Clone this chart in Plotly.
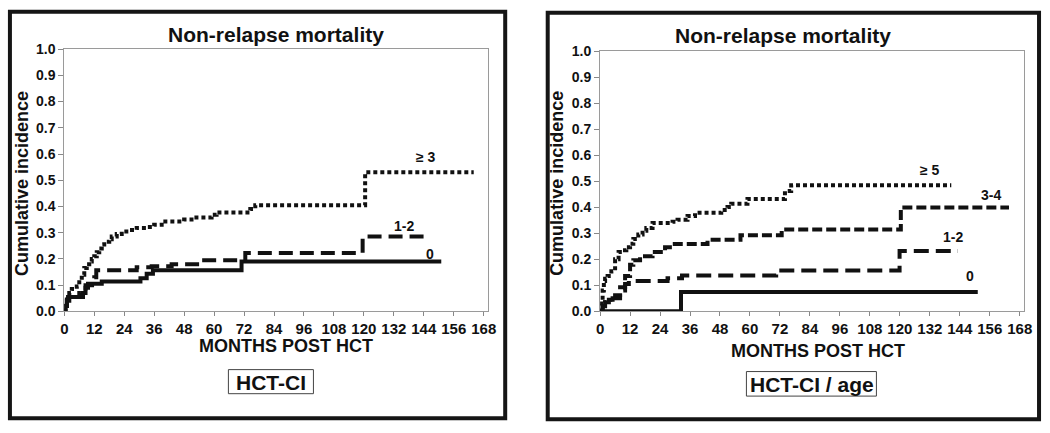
import plotly.graph_objects as go

W, H = 1050, 433

# ---------------- data ----------------
month_ticks = list(range(0, 169, 12))
inc_ticks = [i / 10 for i in range(11)]
inc_ticktext = [f"{v:.1f}" for v in inc_ticks]

# Left panel: HCT-CI
L_ge3_t = [0, 0.5, 1, 2, 3, 5, 6, 7, 8, 9, 10, 11, 12, 13, 14, 15, 16, 18, 19, 21,
           23, 26, 29, 33, 36, 39, 48, 52, 59, 61, 74.5, 76.5, 120.5, 164]
L_ge3_v = [0, 0.02, 0.04, 0.07, 0.085, 0.095, 0.12, 0.14, 0.165, 0.18, 0.19, 0.2, 0.21,
           0.225, 0.24, 0.255, 0.265, 0.275, 0.285, 0.295, 0.305, 0.31, 0.318, 0.322,
           0.33, 0.343, 0.35, 0.358, 0.368, 0.377, 0.39, 0.405, 0.53, 0.53]
L_12_t = [0, 0.5, 1, 2, 6, 8.5, 12, 12.8, 29, 35, 43, 55, 72.5, 119.5, 146]
L_12_v = [0, 0.02, 0.04, 0.055, 0.07, 0.1, 0.13, 0.157, 0.168, 0.172, 0.18, 0.195,
          0.223, 0.285, 0.285]
L_0_t = [0, 0.3, 1, 1.5, 7.5, 8.5, 9.5, 15, 30.5, 33, 35.5, 71, 151]
L_0_v = [0, 0.02, 0.045, 0.055, 0.07, 0.09, 0.105, 0.114, 0.126, 0.143, 0.157, 0.19, 0.19]

# Right panel: HCT-CI / age
R_ge5_t = [0, 0.5, 1, 1.5, 2, 3, 4.5, 6, 7.4, 9, 10.5, 12, 13.3, 15.3, 17, 18.5, 21,
           29, 31, 35, 38, 48.5, 51, 52.5, 59, 74, 76.5, 140.6]
R_ge5_v = [0, 0.04, 0.08, 0.117, 0.125, 0.136, 0.154, 0.2, 0.228, 0.235, 0.247, 0.26,
           0.278, 0.296, 0.31, 0.321, 0.34, 0.345, 0.352, 0.367, 0.379, 0.39, 0.401,
           0.414, 0.432, 0.463, 0.485, 0.485]
R_34_t = [0, 1, 2, 3.5, 6, 8, 10, 12, 13.3, 16, 21, 26, 29, 43, 56.2, 72.7, 120.4, 163.7]
R_34_v = [0, 0.02, 0.035, 0.045, 0.062, 0.093, 0.136, 0.179, 0.197, 0.212, 0.228,
          0.247, 0.259, 0.275, 0.293, 0.315, 0.399, 0.399]
R_12_t = [0, 1, 2, 5, 8, 10, 11.5, 27, 32.8, 70.5, 119.9, 143.3]
R_12_v = [0, 0.02, 0.035, 0.05, 0.08, 0.105, 0.117, 0.127, 0.138, 0.157, 0.232, 0.232]
R_0_t = [0, 32.4, 151.2]
R_0_v = [0, 0.074, 0.074]

left_labels = ["≥ 3", "1-2", "0"]
right_labels = ["≥ 5", "3-4", "1-2", "0"]
title_text = "Non-relapse mortality"
xtitle_text = "MONTHS POST HCT"
ytitle_text = "Cumulative incidence"
left_box_text = "HCT-CI"
right_box_text = "HCT-CI / age"

# ---------------- helpers ----------------
def px(x):
    return x / W

def py(y):
    return 1 - y / H

FONT = "Liberation Sans, Arial, sans-serif"
INK = "#111111"

def bfont(size):
    return dict(family=FONT, size=size, color=INK, weight="bold")

fig = go.Figure()

def step(t, v, xa, ya, dash, width=4):
    fig.add_trace(go.Scatter(
        x=t, y=v, mode="lines", line=dict(shape="hv", color=INK, width=width, dash=dash),
        xaxis=xa, yaxis=ya, hoverinfo="skip"))

step(L_ge3_t, L_ge3_v, "x", "y", "4px,3px")
step(L_12_t, L_12_v, "x", "y", "14px,7px")
step(L_0_t, L_0_v, "x", "y", "solid")

step(R_ge5_t, R_ge5_v, "x2", "y2", "4px,3px")
step(R_34_t, R_34_v, "x2", "y2", "10px,4px")
step(R_12_t, R_12_v, "x2", "y2", "15px,7px")
step(R_0_t, R_0_v, "x2", "y2", "solid")

common_x = dict(range=[0, 169.6], tickvals=month_ticks, ticks="outside", ticklen=4,
                tickcolor="#888", showline=True, linecolor="#9a9a9a", linewidth=1,
                mirror=True, showgrid=False, zeroline=False, tickfont=bfont(15))
common_y = dict(range=[0, 1.0], tickvals=inc_ticks, ticktext=inc_ticktext,
                ticks="outside", ticklen=5, tickcolor="#888", showline=True,
                linecolor="#9a9a9a", linewidth=1, mirror=True, showgrid=False,
                zeroline=False, tickfont=bfont(14))

fig.update_layout(
    width=W, height=H, margin=dict(l=0, r=0, t=0, b=0),
    paper_bgcolor="white", plot_bgcolor="white", showlegend=False,
    xaxis=dict(domain=[px(61), px(489.3)], anchor="y", **common_x),
    yaxis=dict(domain=[py(315), py(42.7)], anchor="x", **common_y),
    xaxis2=dict(domain=[px(603), px(1031.5)], anchor="y2", **common_x),
    yaxis2=dict(domain=[py(315), py(45)], anchor="x2", **common_y),
)

ann = []
def text(x, y, s, size, angle=0):
    ann.append(dict(x=px(x), y=py(y), xref="paper", yref="paper", text=s,
                    showarrow=False, font=bfont(size), textangle=angle,
                    xanchor="center", yanchor="middle"))

# titles
text(275, 27, title_text, 21)
text(788, 29, title_text, 21)
text(285, 351, xtitle_text, 18)
text(823, 356, xtitle_text, 18)
text(18, 182, ytitle_text, 18, -90)
text(560, 182, ytitle_text, 18, -90)
# curve labels
text(427, 155, left_labels[0], 14)
text(405, 226, left_labels[1], 14)
text(431, 255, left_labels[2], 14)
text(937, 168, right_labels[0], 14)
text(998, 194, right_labels[1], 14)
text(960, 238, right_labels[2], 14)
text(977, 278, right_labels[3], 14)
# boxed labels
text(270, 388.5, left_box_text, 21)
text(817, 390.5, right_box_text, 21)
fig.update_layout(annotations=ann)

shapes = []
def rect(x0, y0, x1, y1, color, width):
    shapes.append(dict(type="rect", xref="paper", yref="paper", x0=px(x0), x1=px(x1),
                       y0=py(y1), y1=py(y0), line=dict(color=color, width=width),
                       fillcolor="rgba(0,0,0,0)"))

rect(6, 4, 507, 426, "#151515", 4)
rect(550, 5, 1047, 427, "#151515", 4)
rect(227, 375.5, 313, 400.5, "#444444", 1)
rect(751, 377.5, 882.5, 403, "#444444", 1)
fig.update_layout(shapes=shapes)

fig.write_html("out.html", config={"displayModeBar": False},
               post_script="document.body.style.margin='0';")
